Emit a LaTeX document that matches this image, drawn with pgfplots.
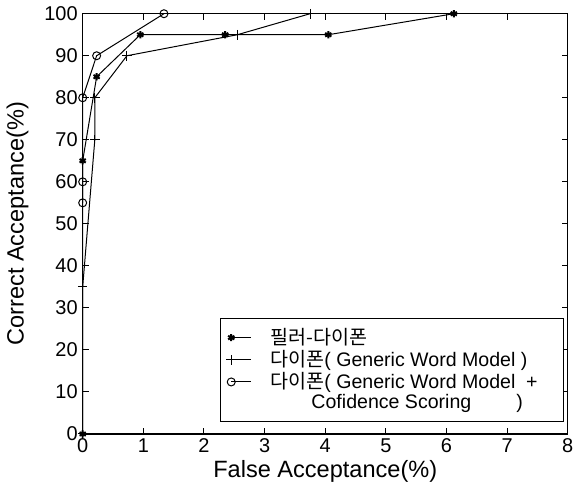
\documentclass[border=0pt]{standalone}
\usepackage{fontspec}
\setmainfont{Liberation Sans}
\newfontfamily\kr{Noto Sans CJK KR}
\usepackage{pgfplots}
\pgfplotsset{compat=1.18}
\begin{document}
\begin{tikzpicture}
\begin{axis}[
    width=243pt, height=210.5pt,
    scale only axis,
    xmin=0, xmax=8, ymin=0, ymax=100,
    xtick={0,1,...,8},
    ytick={0,10,...,100},
    tick align=inside,
    tick style={black, line width=0.5pt},
    major tick length=3pt,
    axis line style={line width=0.7pt},
    /pgf/number format/assume math mode=true,
    tick label style={font=\fontsize{10}{12}\selectfont},
    xticklabel style={yshift=1pt},
    yticklabel style={xshift=1pt},
    xlabel={False Acceptance(\%)},
    ylabel={Correct Acceptance(\%)},
    label style={font=\fontsize{11.8}{13}\selectfont},
    xlabel style={yshift=3pt},
    ylabel style={yshift=1pt},
    every axis plot/.append style={black, line width=0.5pt},
    legend image code/.code={%
        \path (0cm,0cm) (0.76cm,0cm);
        \draw[mark repeat=2,mark phase=1,#1] plot coordinates {(0.15cm,0cm) (0.5cm,0cm)};},
    legend style={at={(axis cs:2.26,2.8)}, anchor=south west,
        font=\fontsize{9.8}{11}\selectfont, draw=black, line width=0.5pt,
        row sep=-2.5pt, inner xsep=1pt, inner ysep=3pt,
        cells={anchor=west}},
    legend cell align=left,
    clip=false,
]
% 필러-다이폰
\addplot[mark=asterisk, mark size=1.8pt, mark options={line width=1pt}] coordinates {
    (0,0) (0,65) (0.23,85) (0.95,95) (2.35,95) (4.05,95) (6.12,100)
};
\addlegendentry{{\kr 필러-다이폰}}
% 다이폰 (Generic Word Model)
\addplot[mark=+, mark size=2.4pt] coordinates {
    (0,0) (0,35) (0.2,70) (0.2,80) (0.73,90) (2.55,95) (3.75,100)
};
\addlegendentry{{\kr 다이폰}( Generic Word Model )}
% 다이폰 (Generic Word Model + Confidence Scoring)
\addplot[mark=o, mark size=2pt] coordinates {
    (0,55) (0,60) (0,80) (0.23,90) (1.34,100)
};
\addlegendentry{{\kr 다이폰}( Generic Word Model\ \ +\rule{10pt}{0pt}}
\addlegendimage{empty legend}
\addlegendentry{\hspace{2.1em}Cofidence Scoring\hspace{2.3em})}
\end{axis}
\end{tikzpicture}
\end{document}
